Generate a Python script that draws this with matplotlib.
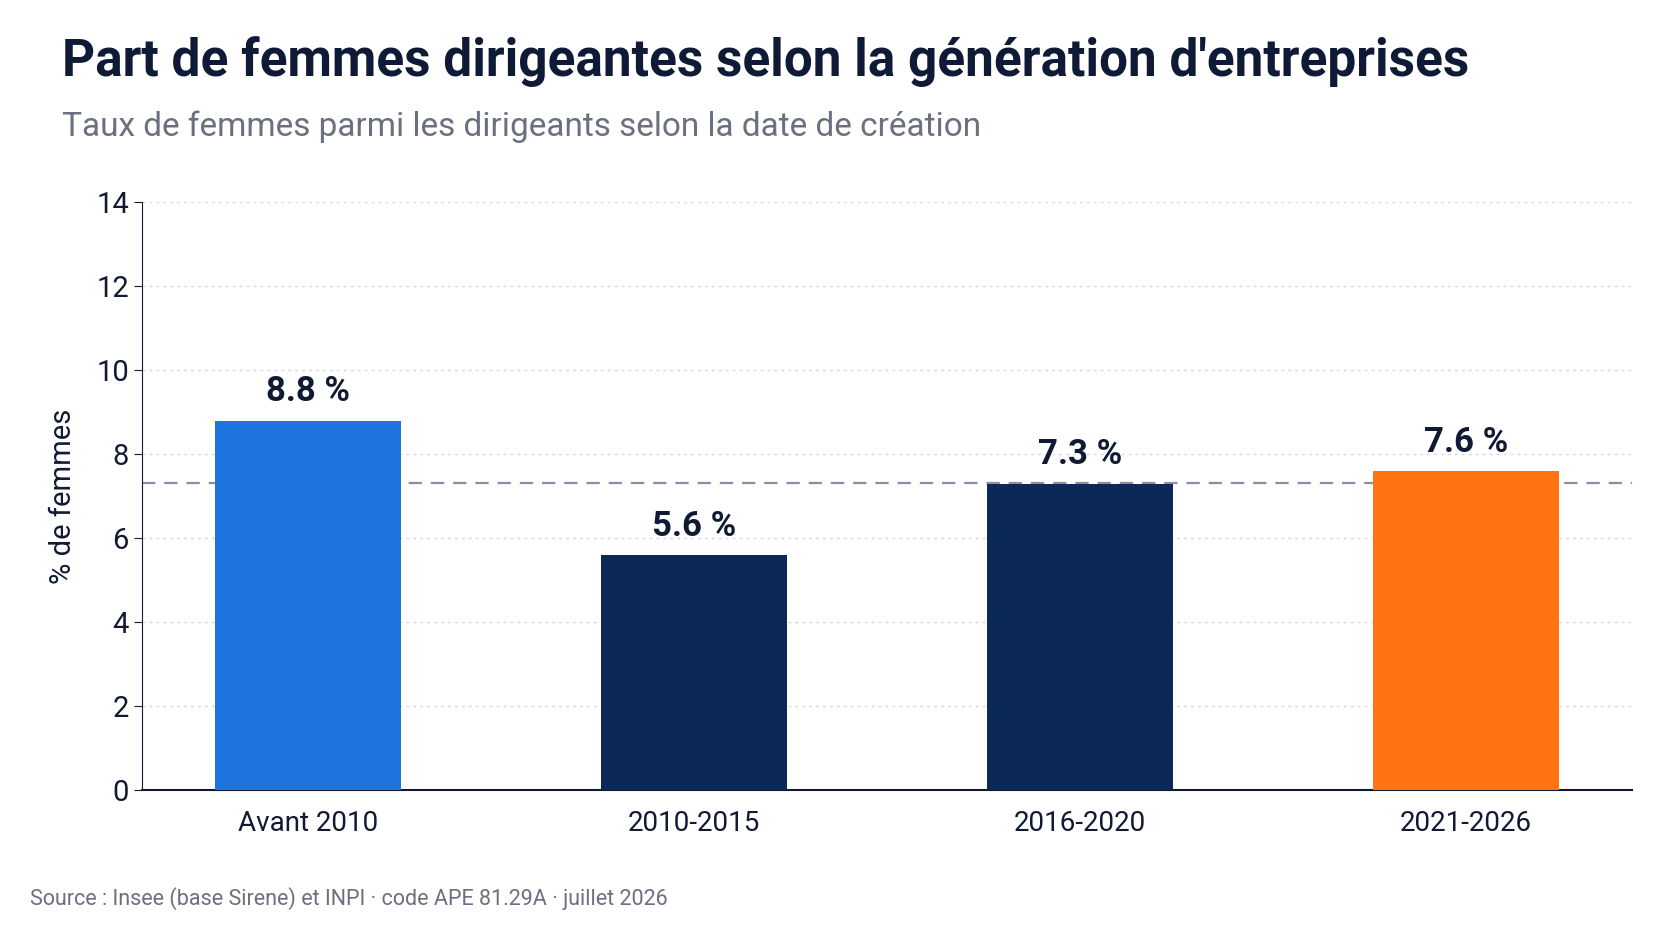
import matplotlib
matplotlib.use("Agg")
import matplotlib.pyplot as plt

plt.rcParams['font.family'] = ['Roboto', 'DejaVu Sans']

categories = ['Avant 2010', '2010-2015', '2016-2020', '2021-2026']
values = [8.8, 5.6, 7.3, 7.6]
colors = ['#1f74e0', '#0b2857', '#0b2857', '#ff7410']
labels = ['8.8 %', '5.6 %', '7.3 %', '7.6 %']
reference = sum(values) / len(values)

fig = plt.figure(figsize=(16.72, 9.41), dpi=100)
ax = fig.add_axes([0.085, 0.16, 0.891, 0.625])

x = range(len(categories))
ax.bar(x, values, width=0.48, color=colors, zorder=3)
for xi, v, lab in zip(x, values, labels):
    ax.text(xi, v + 0.3, lab, ha='center', va='bottom', fontsize=25,
            fontweight='bold', color='#111a33', zorder=4)

ax.axhline(reference, color='#8a8fa8', linestyle=(0, (6, 4)), linewidth=1.6, zorder=2)

ax.set_ylim(0, 14)
ax.set_xlim(-0.43, 3.43)
ax.set_yticks(range(0, 15, 2))
ax.set_xticks(list(x))
ax.set_xticklabels(categories)
ax.tick_params(axis='y', labelsize=21, colors='#111a33', length=6)
ax.tick_params(axis='x', labelsize=20, colors='#111a33', length=0, pad=14)
ax.yaxis.grid(True, linestyle=(0, (2, 3)), color='#d6d9e0', linewidth=1, zorder=0)
ax.spines['top'].set_visible(False)
ax.spines['right'].set_visible(False)
ax.spines['left'].set_color('#111a33')
ax.spines['bottom'].set_color('#111a33')
ax.spines['bottom'].set_linewidth(1.5)
ax.set_ylabel('% de femmes', fontsize=21, color='#111a33', labelpad=14)

fig.text(0.037, 0.935, "Part de femmes dirigeantes selon la génération d'entreprises",
         fontsize=37, fontweight='bold', color='#0f1a36', va='center')
fig.text(0.037, 0.865, "Taux de femmes parmi les dirigeants selon la date de création",
         fontsize=24, color='#6b7080', va='center')
fig.text(0.018, 0.045, "Source : Insee (base Sirene) et INPI · code APE 81.29A · juillet 2026",
         fontsize=15.5, color='#6b7080', va='center')

fig.savefig('out.png', dpi=100, facecolor='white')
